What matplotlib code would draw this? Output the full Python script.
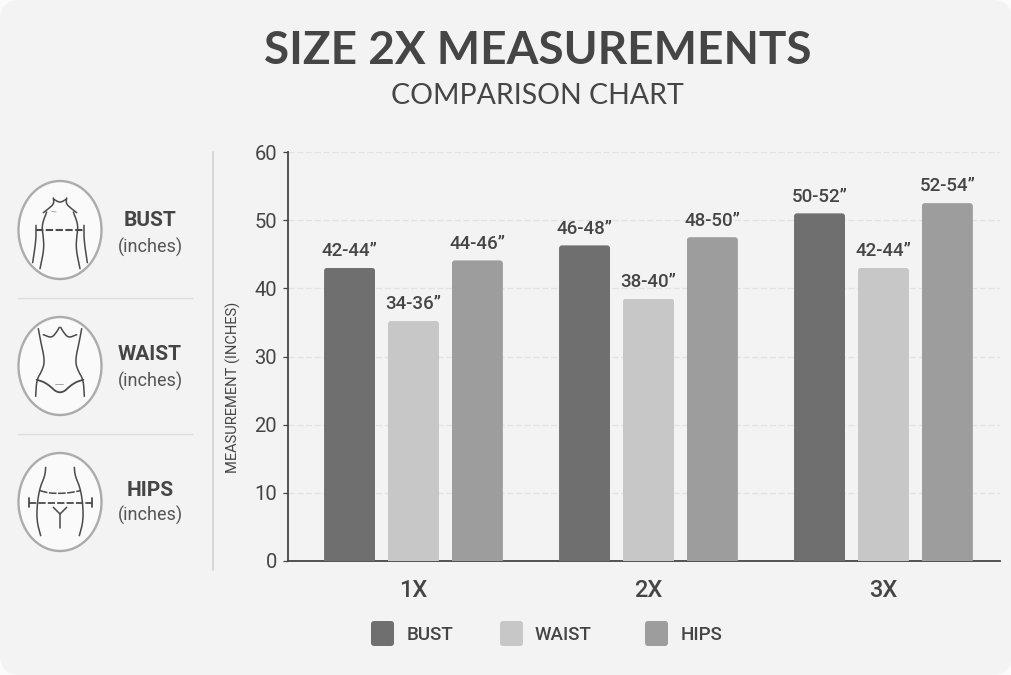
import matplotlib
matplotlib.use("Agg")
import matplotlib.pyplot as plt
import numpy as np
from matplotlib.patches import FancyBboxPatch, Ellipse

title = "SIZE 2X MEASUREMENTS"
subtitle = "COMPARISON CHART"
categories = ["1X", "2X", "3X"]
series_names = ["BUST", "WAIST", "HIPS"]
bust = [43, 46.3, 51]
waist = [35.2, 38.5, 43]
hips = [44.1, 47.5, 52.5]
bust_labels = ["42-44”", "46-48”", "50-52”"]
waist_labels = ["34-36”", "38-40”", "42-44”"]
hips_labels = ["44-46”", "48-50”", "52-54”"]
y_ticks = [0, 10, 20, 30, 40, 50, 60]
y_title = "MEASUREMENT (INCHES)"

W, H = 1012, 675
DARK = "#454545"
COLORS = ["#6f6f6f", "#c7c7c7", "#9d9d9d"]
plt.rcParams["font.family"] = ["Roboto", "DejaVu Sans"]

fig = plt.figure(figsize=(W / 100, H / 100), dpi=100, facecolor="#fbfbfb")

# overlay in pixel coordinates for panel, icons and side text
bg = fig.add_axes([0, 0, 1, 1], zorder=0)
bg.set_xlim(0, W)
bg.set_ylim(H, 0)
bg.axis("off")
bg.add_patch(FancyBboxPatch((0, 0), W, H, boxstyle="round,pad=0,rounding_size=20",
                            fc="#f3f3f3", ec="none"))

bg.text(537.5, 51, title, ha="center", va="center", fontsize=33, fontweight="bold",
        family=["Lato", "DejaVu Sans"], color=DARK)
bg.text(537, 96, subtitle, ha="center", va="center", fontsize=20.5,
        family=["Lato", "DejaVu Sans"], color=DARK)

# side panel
bg.plot([213, 213], [152, 570], color="#cfcfcf", lw=1.1)
for yy in (297.5, 433.5):
    bg.plot([18, 192], [yy, yy], color="#dedede", lw=1)


def smooth(pts, n=3):
    p = np.array(pts, float)
    for _ in range(n):
        a, b = p[:-1], p[1:]
        q = np.empty((2 * len(a), 2))
        q[0::2] = 0.75 * a + 0.25 * b
        q[1::2] = 0.25 * a + 0.75 * b
        p = np.vstack([p[0], q, p[-1]])
    return p


def draw(pts, org, mirror=False, curved=True, lw=1.1, ls="-", color="#4a4a4a"):
    p = smooth(pts) if curved else np.array(pts, float)
    x, y = p[:, 0], p[:, 1]
    bg.plot(org[0] + x / 3, org[1] + y / 3, color=color, lw=lw, ls=ls, solid_capstyle="round")
    if mirror:
        bg.plot(org[0] + (300 - x) / 3, org[1] + y / 3, color=color, lw=lw, ls=ls,
                solid_capstyle="round")


for cy in (230, 366, 502):
    bg.add_patch(Ellipse((60, cy), 83, 98, fc="#fafafa", ec="#ababab", lw=1.7))

# bust icon
o = (10, 172)
draw([(130, 78), (132, 95), (118, 108), (100, 122)], o, True)
draw([(132, 82), (145, 90), (155, 90), (168, 82)], o)
draw([(110, 120), (95, 160), (100, 195), (102, 232), (90, 290)], o, True)
draw([(78, 160), (78, 205), (68, 272)], o, True)
draw([(78, 174), (222, 174)], o, curved=False, lw=1.5, ls=(0, (3.5, 1.2)))
draw([(125, 118), (138, 120)], o, curved=False, lw=0.6, color="#999999")
# waist icon
o = (10, 308)
draw([(85, 62), (92, 100), (105, 160), (95, 190), (80, 215), (77, 265)], o, True)
draw([(100, 80), (125, 90), (140, 72), (148, 58)], o, True)
draw([(80, 215), (110, 225), (150, 262), (190, 225), (220, 215)], o, lw=1.3)
draw([(135, 227), (158, 227)], o, curved=False, lw=0.6, color="#999999")
# hips icon
o = (10, 444)
draw([(107, 70), (105, 95), (90, 130), (82, 175), (80, 230), (92, 275)], o, True)
draw([(90, 140), (120, 148), (170, 148), (212, 140)], o, ls=(0, (5, 1)), lw=1.1)
draw([(58, 177), (245, 177)], o, curved=False, lw=1.3, ls=(0, (4, 1.2)))
draw([(58, 163), (58, 189)], o, curved=False, lw=1.3)
draw([(245, 163), (245, 189)], o, curved=False, lw=1.3)
draw([(130, 190), (150, 210), (170, 190)], o, curved=False)
draw([(150, 210), (150, 252)], o, curved=False)

for name, yb, yu in zip(series_names, (220, 355, 490), (247, 381, 515)):
    bg.text(150, yb, name, ha="center", va="center", fontsize=15, fontweight="bold", color=DARK)
    bg.text(150, yu, "(inches)", ha="center", va="center", fontsize=13, color="#555555")

# main chart
left, right, top, bottom = 288, 1000, 152, 561
ax = fig.add_axes([left / W, 1 - bottom / H, (right - left) / W, (bottom - top) / H], zorder=2)
ax.patch.set_alpha(0)
ax.set_xlim(-0.534, 2.496)
ax.set_ylim(0, 60)
ax.set_yticks(y_ticks)
ax.set_xticks(range(len(categories)), categories)
ax.grid(axis="y", color="#e2e2e2", lw=0.9, ls=(0, (5, 2)))
ax.set_axisbelow(True)
for s in ("top", "right"):
    ax.spines[s].set_visible(False)
for s in ("left", "bottom"):
    ax.spines[s].set_color(DARK)
    ax.spines[s].set_linewidth(1.3)
ax.tick_params(axis="y", length=3.5, width=0.9, color=DARK, labelsize=14.5, labelcolor=DARK, pad=4.5)
ax.tick_params(axis="x", length=0, labelsize=17, labelcolor=DARK, pad=13)
for lab in ax.get_xticklabels():
    lab.set_fontweight("medium")
ax.set_ylabel(y_title, fontsize=10.5, color=DARK)
ax.yaxis.set_label_coords(-0.066, 0.425)

step, bw = 0.272, 0.217
rx = 3 / 235
ry_scale = (3 / (409 / 60)) / rx
all_vals = [bust, waist, hips]
all_labs = [bust_labels, waist_labels, hips_labels]
x = np.arange(len(categories))
for i, (vals, labs, col) in enumerate(zip(all_vals, all_labs, COLORS)):
    pos = x + (i - 1) * step
    bars = ax.bar(pos, vals, bw, color=col, zorder=3)
    for r, lab in zip(bars, labs):
        clip = FancyBboxPatch((r.get_x(), -2), r.get_width(), r.get_height() + 2,
                              boxstyle=f"round,pad=0,rounding_size={rx}",
                              mutation_aspect=ry_scale, transform=ax.transData)
        r.set_clip_path(clip)
        ax.annotate(lab, (r.get_x() + r.get_width() / 2, r.get_height()), xytext=(0, 5.5),
                    textcoords="offset points", ha="center", va="bottom", fontsize=13.5,
                    fontweight="medium", color=DARK, zorder=4)

# legend
for name, col, sx, tx in zip(series_names, COLORS, (371, 500, 645), (407, 535, 681)):
    bg.add_patch(FancyBboxPatch((sx, 621), 23, 25, boxstyle="round,pad=0,rounding_size=3",
                                fc=col, ec="none"))
    bg.text(tx, 635, name, ha="left", va="center", fontsize=13.5, fontweight="medium", color=DARK)

fig.savefig("out.png", dpi=100, facecolor=fig.get_facecolor())
